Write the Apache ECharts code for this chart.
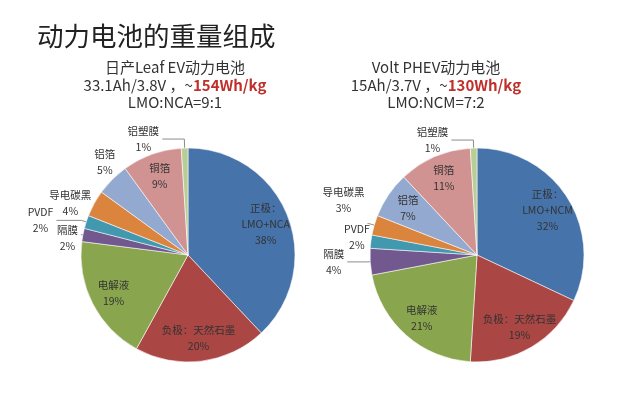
<!DOCTYPE html>
<html>
<head>
<meta charset="utf-8">
<script src="https://cdn.jsdelivr.net/npm/echarts@6/dist/echarts.min.js"></script>
<style>
html, body { margin: 0; padding: 0; background: #fff; }
#main { width: 624px; height: 398px; }
</style>
</head>
<body>
<div id="main"></div>
<script>
// parts, clockwise from 12 o'clock
const leafParts = ['正极：\nLMO+NCA', '负极：天然石墨', '电解液', '隔膜', 'PVDF', '导电碳黑', '铝箔', '铜箔', '铝塑膜']
const voltParts = ['正极：\nLMO+NCM', '负极：天然石墨', '电解液', '隔膜', 'PVDF', '导电碳黑', '铝箔', '铜箔', '铝塑膜']
// weight share, %
const leafShare = [38, 20, 19, 2, 2, 4, 5, 9, 1]
const voltShare = [32, 19, 21, 4, 2, 3, 7, 11, 1]

const titleText = '动力电池的重量组成'
const leafInfo = ['日产Leaf EV动力电池', '33.1Ah/3.8V ，~', '154Wh/kg', 'LMO:NCA=9:1']
const voltInfo = ['Volt PHEV动力电池', '15Ah/3.7V ，~', '130Wh/kg', 'LMO:NCM=7:2']

const colors = ['#4673AA', '#AA4643', '#89A54E', '#71588F', '#4198AF', '#DB843D', '#93A9CF', '#D19392', '#B9CD96']

// where each label goes: default is inside the slice
// line = outside with leader line, out = outside, no line
// lift moves the text up (negative: down)
const leafPlace = {
  '隔膜': { mode: 'line', len: 2, len2: 0, lift: -3 },
  'PVDF': { mode: 'line', len: 5, len2: 25 },
  '导电碳黑': { mode: 'out', len: 1, len2: 0, dist: 2 },
  '铝箔': { mode: 'out', len: 24, len2: -20, dist: 0 },
  '铝塑膜': { mode: 'line', len: 9, len2: 22 }
}
const voltPlace = {
  '隔膜': { mode: 'line', len: 3, len2: 20 },
  'PVDF': { mode: 'out', len: 1, len2: 0, dist: 0, lift: 4 },
  '导电碳黑': { mode: 'line', len: 6, len2: 1, lift: 23 },
  '铝塑膜': { mode: 'line', len: 8, len2: 22 }
}

const R = 107
const FONT = '"Noto Sans CJK SC", "Noto Sans", sans-serif'
const labelSize = 10.5

let ctx = document.createElement('canvas').getContext('2d')
ctx.font = labelSize + 'px ' + FONT
function textW (s) {
  return Math.ceil(ctx.measureText(s).width)
}

function pieSeries (names, values, center, place) {
  let base = {
    type: 'pie',
    center: center,
    startAngle: 90,
    clockwise: true,
    avoidLabelOverlap: false,
    labelLayout: { hideOverlap: false },
    silent: true,
    emphasis: { disabled: true },
    labelLine: { show: false }
  }
  let txt = { color: '#333', fontSize: labelSize, lineHeight: 16, fontFamily: FONT }

  let mainData = names.map((n, i) => {
    let p = place[n] || { mode: 'in' }
    let item = { name: n, value: values[i], itemStyle: { color: colors[i] } }
    if (p.mode === 'line' || p.mode === 'out') {
      let lines = [n, values[i] + '%']
      let w = Math.max(...lines.map(textW))
      let str = lines.map(s => '{t|' + s + '}').join('\n')
      let lift = p.lift || 0
      item.label = {
        show: true,
        position: 'outside',
        distanceToLabelLine: p.dist != null ? p.dist : 3,
        padding: lift > 0 ? [0, 0, lift * 2, 0] : [-lift * 2, 0, 0, 0],
        formatter: () => str,
        rich: { t: Object.assign({ width: w, align: 'center' }, txt) }
      }
      item.labelLine = {
        show: p.mode === 'line', length: p.len, length2: p.len2,
        lineStyle: { color: '#8c8c8c', width: 1 }
      }
    }
    return item
  })

  // label-only ring, so the inside text sits where the original put it
  let ringData = names.map((n, i) => {
    let p = place[n] || { mode: 'in' }
    return {
      name: n,
      value: values[i],
      label: { show: p.mode === 'in' }
    }
  })

  return [
    Object.assign({}, base, {
      radius: [0, R],
      itemStyle: { borderColor: 'rgba(255,255,255,0.7)', borderWidth: 0.8 },
      label: { show: false },
      data: mainData
    }),
    Object.assign({}, base, {
      radius: [54, R],
      itemStyle: { color: 'rgba(0,0,0,0)' },
      label: Object.assign({
        position: 'inside',
        formatter: (d) => d.name + '\n' + d.value + '%'
      }, txt),
      data: ringData
    })
  ]
}

function infoText (x, info) {
  let plain = { fill: '#333', fontSize: 15, fontFamily: FONT }
  return [
    {
      type: 'text', x: x, y: 67,
      style: { text: info[0], fill: '#333', font: '15px ' + FONT, align: 'center', verticalAlign: 'middle' }
    },
    {
      type: 'text', x: x, y: 85,
      style: {
        text: '{n|' + info[1] + '}{r|' + info[2] + '}',
        rich: {
          n: plain,
          r: { fill: '#C0302B', fontSize: 15, fontWeight: 'bold', fontFamily: FONT }
        },
        align: 'center', verticalAlign: 'middle'
      }
    },
    {
      type: 'text', x: x, y: 102,
      style: { text: info[3], fill: '#333', font: '15px ' + FONT, align: 'center', verticalAlign: 'middle' }
    }
  ]
}

let chart = echarts.init(document.getElementById('main'), null, { renderer: 'canvas' })

let option = {
  backgroundColor: '#fff',
  animation: false,
  graphic: [
    {
      type: 'text', x: 37, y: 36,
      style: { text: titleText, fill: '#222', font: '26.5px ' + FONT, verticalAlign: 'middle' }
    }
  ].concat(infoText(175, leafInfo), infoText(436, voltInfo)),
  series: pieSeries(leafParts, leafShare, [188, 255], leafPlace)
    .concat(pieSeries(voltParts, voltShare, [477, 255], voltPlace))
}

chart.setOption(option)
</script>
</body>
</html>
